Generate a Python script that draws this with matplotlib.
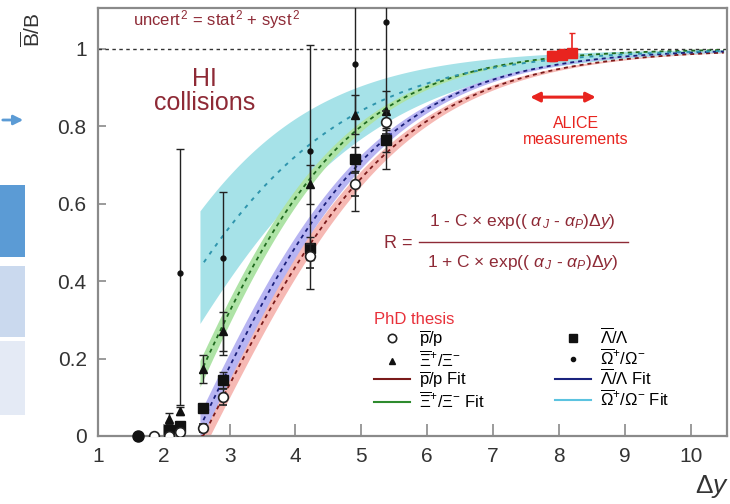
import numpy as np
import matplotlib
matplotlib.use("Agg")
import matplotlib.pyplot as plt
from matplotlib.lines import Line2D
from matplotlib.patches import Rectangle, FancyArrowPatch

plt.rcParams["font.family"] = ["Liberation Sans", "DejaVu Sans"]
plt.rcParams["mathtext.fontset"] = "custom"
plt.rcParams["mathtext.rm"] = "Liberation Sans"
plt.rcParams["mathtext.it"] = "Liberation Sans:italic"
plt.rcParams["mathtext.bf"] = "Liberation Sans:bold"

# ---- measured ratios ----
pbar_x = [1.85, 2.08, 2.25, 2.6, 2.9, 4.22, 4.9, 5.37]
pbar_y = [0.0, 0.0, 0.01, 0.02, 0.10, 0.465, 0.65, 0.81]
pbar_err = [0.005, 0.005, 0.005, 0.01, 0.02, 0.03, 0.03, 0.03]

lam_x = [2.08, 2.25, 2.6, 2.9, 4.22, 4.9, 5.37]
lam_y = [0.015, 0.025, 0.072, 0.145, 0.485, 0.715, 0.764]
lam_err = [0.005, 0.005, 0.01, 0.02, 0.03, 0.03, 0.03]
lam_low_x = [1.61]
lam_low_y = [0.0]

xi_x = [2.08, 2.25, 2.6, 2.9, 4.22, 4.9, 5.37]
xi_y = [0.045, 0.065, 0.173, 0.27, 0.65, 0.83, 0.84]
xi_err = [0.015, 0.01, 0.035, 0.05, 0.05, 0.05, 0.05]

om_x = [2.25, 2.9, 4.22, 4.9, 5.37]
om_y = [0.42, 0.46, 0.735, 0.96, 1.07]
om_err_lo = [0.34, 0.25, 0.355, 0.38, 0.38]
om_err_hi = [0.32, 0.17, 0.275, 0.38, 0.38]

alice_x = [7.9, 8.05, 8.2]
alice_y = [0.98, 0.985, 0.99]
alice_err_lo = [0.012, 0.012, 0.012]
alice_err_hi = [0.015, 0.015, 0.05]

# ---- fit parameters: R = (1 - C exp(a dy)) / (1 + C exp(a dy)), a = alpha_J - alpha_P ----
fit_C = {"pbar": 5.71, "lam": 5.77, "xi": 5.11, "om": 1.91}
fit_a = {"pbar": -0.67, "lam": -0.705, "xi": -0.766, "om": -0.618}
om_band_C = (1.5, 2.45)
om_band_a = (-0.68, -0.586)
band_rel = 0.07

x_ticks = [1, 2, 3, 4, 5, 6, 7, 8, 9, 10]
y_ticks = [0, 0.2, 0.4, 0.6, 0.8, 1.0]
y_ticklabels = ["0", "0.2", "0.4", "0.6", "0.8", "1"]


def ratio(x, C, a):
    u = C * np.exp(a * x)
    return (1 - u) / (1 + u)


fig = plt.figure(figsize=(7.3, 5.04), dpi=100)
ax = fig.add_axes([0.134, 0.135, 0.862, 0.849])
ax.set_xlim(1, 10.55)
ax.set_ylim(0, 1.105)

xx = np.linspace(2.55, 10.5, 400)

# omega band
up = ratio(xx, om_band_C[0], om_band_a[0])
lo = ratio(xx, om_band_C[1], om_band_a[1])
ax.fill_between(xx, lo, up, color="#a6e2e8", lw=0, zorder=1)

band_colors = {"pbar": "#f6b9b4", "lam": "#b7b4f2", "xi": "#aee3a6"}
line_colors = {"pbar": "#7a1a1a", "lam": "#1a1f7a", "xi": "#1f6a1f"}
for key in ["pbar", "lam", "xi"]:
    C, a = fit_C[key], fit_a[key]
    x0 = np.log(C) / (-a)
    xs = xx[xx >= x0 - 0.05]
    r_lo = ratio(xs, C * (1 + band_rel), a)
    r_hi = ratio(xs, C * (1 - band_rel), a)
    ax.fill_between(xs, np.clip(r_lo, 0, None), r_hi, color=band_colors[key], lw=0, zorder=2)
    ax.plot(xs, np.clip(ratio(xs, C, a), 0, None), color=line_colors[key], lw=1.3,
            dashes=(2.2, 2.2), zorder=3)

xo = xx[xx >= 2.6]
ax.plot(xo, ratio(xo, fit_C["om"], fit_a["om"]), color="#2f95ad", lw=1.4,
        dashes=(2, 3), zorder=3)

# unity line
ax.axhline(1.0, color="#333333", lw=1.0, dashes=(2.5, 2.5), zorder=2)

# data
ax.errorbar(om_x, om_y, yerr=[om_err_lo, om_err_hi], fmt="o", ms=3.5, color="#111111",
            ecolor="#222222", elinewidth=1.0, capsize=3, zorder=5)
ax.errorbar(xi_x, xi_y, yerr=xi_err, fmt="^", ms=6, color="#111111",
            ecolor="#222222", elinewidth=1.0, capsize=3, zorder=6)
ax.errorbar(lam_x, lam_y, yerr=lam_err, fmt="s", ms=7, color="#111111",
            ecolor="#222222", elinewidth=1.0, capsize=3, zorder=6)
ax.plot(lam_low_x, lam_low_y, "o", ms=8, color="#111111", zorder=6, clip_on=False)
ax.errorbar(pbar_x, pbar_y, yerr=pbar_err, fmt="o", ms=7, mfc="white", mec="#222222",
            mew=1.2, ecolor="#222222", elinewidth=1.0, capsize=3, zorder=7)

ax.errorbar(alice_x, alice_y, yerr=[alice_err_lo, alice_err_hi], fmt="s", ms=7,
            color="#e8241f", ecolor="#e8241f", elinewidth=1.2, capsize=2.5, zorder=8)

# annotations
dark_red = "#8e2a36"
ax.text(2.8, 1.075, r"uncert$^{\,2}$ = stat$^{\,2}$ + syst$^{\,2}$", color=dark_red,
        fontsize=12, ha="center", va="center")
ax.text(2.62, 0.89, "HI\ncollisions", color=dark_red, fontsize=18, ha="center",
        va="center", linespacing=1.0)

ax.add_patch(FancyArrowPatch((7.52, 0.875), (8.6, 0.875), arrowstyle="<|-|>",
                             mutation_scale=14, color="#e8241f", lw=2.2, zorder=9))
ax.text(8.26, 0.787, "ALICE\nmeasurements", color="#e8241f", fontsize=11.5,
        ha="center", va="center", linespacing=1.05)

num = r"1 - C $\times$ exp(( $\alpha_{\,J}$ - $\alpha_{P}$)$\Delta y$)"
den = r"1 + C $\times$ exp(( $\alpha_{\,J}$ - $\alpha_{P}$)$\Delta y$)"
ax.text(7.45, 0.555, num, color=dark_red, fontsize=12.5, ha="center", va="center")
ax.text(7.45, 0.447, den, color=dark_red, fontsize=12.5, ha="center", va="center")
ax.plot([5.88, 9.05], [0.5, 0.5], color=dark_red, lw=1.0)
ax.text(5.78, 0.497, "R =", color=dark_red, fontsize=13, ha="right", va="center")

# legend
handles = [
    Line2D([], [], marker="o", ls="none", mfc="white", mec="#222222", ms=6, mew=1.2),
    Line2D([], [], marker="^", ls="none", color="#111111", ms=5),
    Line2D([], [], color="#7a1a1a", lw=1.5),
    Line2D([], [], color="#2e8b2e", lw=1.5),
    Line2D([], [], marker="s", ls="none", color="#111111", ms=6),
    Line2D([], [], marker="o", ls="none", color="#111111", ms=3),
    Line2D([], [], color="#1a237e", lw=1.5),
    Line2D([], [], color="#5cc3e0", lw=1.5),
]
labels = [
    r"$\overline{\mathrm{p}}$/p",
    r"$\overline{\Xi}^{+}/\Xi^{-}$",
    r"$\overline{\mathrm{p}}$/p Fit",
    r"$\overline{\Xi}^{+}/\Xi^{-}$ Fit",
    r"$\overline{\Lambda}/\Lambda$",
    r"$\overline{\Omega}^{+}/\Omega^{-}$",
    r"$\overline{\Lambda}/\Lambda$ Fit",
    r"$\overline{\Omega}^{+}/\Omega^{-}$ Fit",
]
leg = ax.legend(handles, labels, ncol=2, loc="upper left",
                bbox_to_anchor=(362 / 730, 1 - 300 / 504), bbox_transform=fig.transFigure,
                frameon=False, fontsize=12, handlelength=2.2, handletextpad=0.5,
                columnspacing=4.2, labelspacing=0.02, borderpad=0.2,
                title="PhD thesis", alignment="left")
leg.get_title().set_color("#e8303a")
leg.get_title().set_fontsize(12)

# axes styling
for sp in ax.spines.values():
    sp.set_color("#8a8a8a")
    sp.set_linewidth(1.6)
ax.set_xticks(x_ticks)
ax.set_yticks(y_ticks)
ax.set_yticklabels(y_ticklabels)
ax.tick_params(axis="x", direction="in", length=9, width=1.2, color="#8a8a8a",
               labelsize=15, labelcolor="#333333", pad=8)
ax.tick_params(axis="y", direction="in", length=6, width=1.2, color="#8a8a8a",
               labelsize=15, labelcolor="#333333", pad=8)

fig.text(32 / 730, 1 - 30 / 504, r"$\overline{\mathrm{B}}$/B", rotation=90, fontsize=15,
         ha="center", va="center", color="#333333")
fig.text(712 / 730, 1 - 486 / 504, r"$\Delta y$", fontsize=19, ha="center", va="center",
         color="#333333")

# slide fragments at the left edge
fig.add_artist(FancyArrowPatch((0, 1 - 120 / 504), (26 / 730, 1 - 120 / 504),
                               transform=fig.transFigure, arrowstyle="-|>",
                               mutation_scale=14, color="#5b9bd5", lw=2))
for (y0, y1, c) in [(185, 257, "#5b9bd5"), (266, 337, "#cad9ee"), (341, 415, "#e4eaf5")]:
    fig.add_artist(Rectangle((0, 1 - y1 / 504), 25 / 730, (y1 - y0) / 504,
                             transform=fig.transFigure, color=c, lw=0))

fig.savefig("out.png", dpi=100)
